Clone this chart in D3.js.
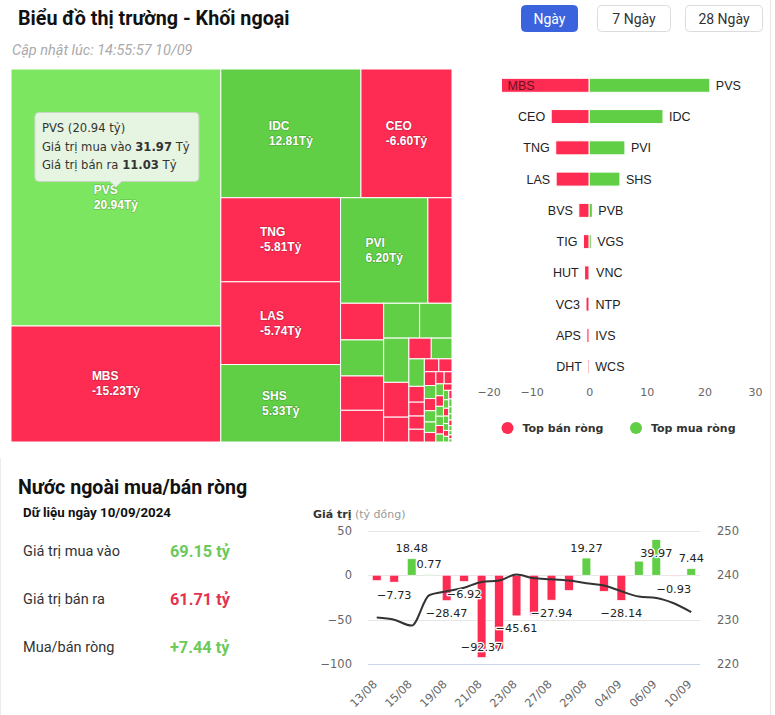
<!DOCTYPE html>
<html><head><meta charset="utf-8">
<script src="https://cdn.jsdelivr.net/npm/d3@7"></script>
<style>
html,body{margin:0;padding:0;background:#fff;}
svg{display:block;}
</style></head><body>
<svg id="c" width="775" height="715"></svg>
<script>
// ---------------- DATA ----------------
// Treemap: traded value (buy+sell, tỷ) sets cell size; side: 1 = net buy, -1 = net sell
const tmTickers = ["PVS","MBS","IDC","CEO","TNG","LAS","SHS","PVI"];
const tmNet = [20.94,-15.23,12.81,-6.60,-5.81,-5.74,5.33,6.20];
const tmTotal = [43.00,19.41,14.39,9.35,8.03,7.90,7.40,7.35,2.03,
  1.26,1.24,1.18,1.09,1.00,0.90,0.89,0.70,0.50,0.37,0.343,0.339,0.195,0.171,0.163,0.157,0.149,
  0.135,0.127,0.120,0.112,0.104,0.096,0.088,0.080,0.076,0.072,0.064,0.060,0.056,0.052,0.048,0.044,
  0.040,0.036,0.033,0.032,0.029,0.025,0.024,0.022,0.020,0.018,0.016,0.014,0.013,0.011,0.010,0.008];
const tmSide = [1,-1,1,-1,-1,-1,1,1,-1,
  -1,1,-1,-1,1,1,1,-1,-1,-1,1,1,-1,-1,-1,-1,-1,
  -1,-1,1,-1,1,1,-1,-1,-1,1,-1,1,1,-1,1,-1,1,1,-1,1,1,-1,1,-1,1,1,1,-1,1,1,-1,1];
const tipTitle = "PVS (20.94 tỷ)";
const tipBuy = "31.97", tipSell = "11.03";

// Top net sell / net buy bars
const sellTickers = ["MBS","CEO","TNG","LAS","BVS","TIG","HUT","VC3","APS","DHT"];
const sellValues = [-15.23,-6.60,-5.81,-5.74,-1.80,-1.00,-0.80,-0.55,-0.40,-0.22];
const buyTickers = ["PVS","IDC","PVI","SHS","PVB","VGS","VNC","NTP","IVS","WCS"];
const buyValues = [20.94,12.81,6.20,5.33,0.55,0.35,0.15,0.05,0.03,0.02];
const barTicks = [-20,-10,0,10,20,30];

// Daily foreign net value + index line
const dates = ["13/08","14/08","15/08","16/08","19/08","20/08","21/08","22/08","23/08","26/08",
  "27/08","28/08","29/08","30/08","04/09","05/09","06/09","09/09","10/09"];
const netValues = [-6.0,-7.73,18.48,0.77,-28.47,-6.92,-92.37,-83.0,-45.61,-45.0,
  -27.94,-17.0,19.27,-18.0,-28.14,15.8,39.97,-0.93,7.44];
const labelShown = [0,1,1,1,1,1,1,0,1,0,1,0,1,0,1,0,1,1,1];
const indexValues = [230.5,230.0,228.7,235.5,236.4,237.2,238.5,238.8,240.15,239.3,
  239.1,238.8,238.2,237.7,236.4,235.2,234.9,233.7,231.7];
const leftTicks = [-100,-50,0,50];
const rightTicks = [220,230,240,250];

const summaryLabels = ["Giá trị mua vào","Giá trị bán ra","Mua/bán ròng"];
const summaryValues = ["69.15 tỷ","61.71 tỷ","+7.44 tỷ"];

// ---------------- STYLE ----------------
const GREEN = "#61cf46", GREEN_HOVER = "#7de660", RED = "#fe2b52";
const UI = "Roboto, 'Noto Sans', sans-serif";
const HC = "'DejaVu Sans', Verdana, sans-serif";
const AR = "'Liberation Sans', Arial, sans-serif";
const svg = d3.select("#c");

// card edges
svg.append("line").attr("x1",770.5).attr("x2",770.5).attr("y1",0).attr("y2",715).attr("stroke","#e6e6e6");
svg.append("line").attr("x1",0.5).attr("x2",0.5).attr("y1",458).attr("y2",715).attr("stroke","#ececec");

// ---------------- HEADER ----------------
svg.append("text").attr("x",18).attr("y",24.5).text("Biểu đồ thị trường - Khối ngoại")
  .attr("font-family",UI).attr("font-weight",700).attr("font-size",19.7).attr("fill","#111");
const btns = [{t:"Ngày",x:521,w:56,on:true},{t:"7 Ngày",x:597,w:73},{t:"28 Ngày",x:685,w:77}];
btns.forEach(b=>{
  svg.append("rect").attr("x",b.x+0.5).attr("y",5.5).attr("width",b.w).attr("height",26).attr("rx",4)
    .attr("fill",b.on?"#3b63de":"#fff").attr("stroke",b.on?"#3b63de":"#dcdcdc");
  svg.append("text").attr("x",b.x+b.w/2+0.5).attr("y",23.5).attr("text-anchor","middle").text(b.t)
    .attr("font-family",UI).attr("font-size",14).attr("fill",b.on?"#fff":"#333");
});
svg.append("text").attr("x",12).attr("y",55).text("Cập nhật lúc: 14:55:57 10/09")
  .attr("font-family",UI).attr("font-style","italic").attr("font-size",14.5).attr("fill","#aaa");

// ---------------- TREEMAP (Highcharts-style alternating squarified) ----------------
function hcTile(parent, x0, y0, x1, y1){
  const kids = parent.children, pW = x1-x0, pH = y1-y0;
  const ar = (w,h)=>Math.max(w/h,h/w);
  const g = {height:pH,width:pW,direction:0,total:0,nW:0,lW:0,nH:0,lH:0,elArr:[],lP:{}};
  const plot = {x:x0,y:y0}; const out = [];
  function add(el){
    const lP = g.lP; lP.total = g.elArr[g.elArr.length-1]; g.total += el;
    if(g.direction===0){
      g.lW = g.nW; lP.lH = lP.total/g.lW; lP.lR = ar(g.lW,lP.lH);
      g.nW = g.total/g.height; lP.nH = lP.total/g.nW; lP.nR = ar(g.nW,lP.nH);
    } else {
      g.lH = g.nH; lP.lW = lP.total/g.lH; lP.lR = ar(lP.lW,g.lH);
      g.nH = g.total/g.width; lP.nW = lP.total/g.nH; lP.nR = ar(lP.nW,g.nH);
    }
    g.elArr.push(el);
  }
  function calc(last){
    let gW = g.lW, gH = g.lH, pTot;
    if(last){gW = g.nW; gH = g.nH;} else {pTot = g.elArr[g.elArr.length-1];}
    const end = g.elArr.length-1;
    g.elArr.forEach((p,i)=>{
      if(last || i<end){
        let w,h;
        if(g.direction===0){w=gW;h=p/w;} else {h=gH;w=p/h;}
        out.push({x:plot.x,y:plot.y,w,h});
        if(g.direction===0) plot.y += h; else plot.x += w;
      }
    });
    g.nW=0; g.lW=0; g.elArr=[]; g.total=0;
    if(g.direction===0) g.width -= gW; else g.height -= gH;
    plot.y = y0 + (pH-g.height); plot.x = x0 + (pW-g.width);
    g.direction = 1-g.direction;
    if(!last) add(pTot);
  }
  kids.forEach((c,i)=>{
    add(pW*pH*(c.value/parent.value));
    if(g.lP.nR > g.lP.lR) calc(false);
    if(i===kids.length-1) calc(true);
  });
  kids.forEach((c,i)=>{const r=out[i]; c.x0=r.x; c.y0=r.y; c.x1=r.x+r.w; c.y1=r.y+r.h;});
}
const tmData = tmTotal.map((v,i)=>({name:tmTickers[i]||"", size:v, side:tmSide[i], net:tmNet[i]}));
const root = d3.hierarchy({children:tmData}).sum(d=>d.size||0).sort((a,b)=>b.value-a.value);
d3.treemap().tile(hcTile).size([441,373])(root);
const tm = svg.append("g").attr("transform","translate(11,69)");
tm.selectAll("rect").data(root.leaves()).join("rect")
  .attr("x",d=>d.x0).attr("y",d=>d.y0).attr("width",d=>Math.max(0,d.x1-d.x0)).attr("height",d=>Math.max(0,d.y1-d.y0))
  .attr("fill",d=>d.data.name==="PVS"?GREEN_HOVER:(d.data.side>0?GREEN:RED))
  .attr("stroke","#fff").attr("stroke-width",1);
root.leaves().filter(d=>d.data.name).forEach(d=>{
  const cx=(d.x0+d.x1)/2, cy=(d.y0+d.y1)/2;
  const grp = tm.append("g");
  const style = t=>t.attr("font-family",AR).attr("font-weight",700).attr("font-size",12).attr("fill","#fff")
     .attr("stroke","rgba(0,0,0,0.18)").attr("stroke-width",1.6).attr("paint-order","stroke").attr("stroke-linejoin","round");
  const t1 = style(grp.append("text").text(d.data.name));
  const t2 = style(grp.append("text").text(d.data.net.toFixed(2)+"Tỷ"));
  const bw = Math.max(t1.node().getComputedTextLength(), t2.node().getComputedTextLength());
  t1.attr("x",cx-bw/2).attr("y",cy-3.5); t2.attr("x",cx-bw/2).attr("y",cy+11.5);
});
// tooltip on PVS
{
  const pvs = root.leaves().find(d=>d.data.name==="PVS");
  const cx = 11+(pvs.x0+pvs.x1)/2, cy = 69+(pvs.y0+pvs.y1)/2;
  const tipY = cy-10.5, bx0 = cx-81, bx1 = cx+83, by1 = tipY-5.5, by0 = by1-69, r=4;
  const p = `M${bx0+r},${by0} H${bx1-r} Q${bx1},${by0} ${bx1},${by0+r} V${by1-r} Q${bx1},${by1} ${bx1-r},${by1}
    H${cx+6} L${cx},${tipY} L${cx-6},${by1} H${bx0+r} Q${bx0},${by1} ${bx0},${by1-r} V${by0+r} Q${bx0},${by0} ${bx0+r},${by0} Z`;
  svg.append("path").attr("d",p).attr("fill","rgba(247,247,247,0.86)").attr("stroke","#c9d6c4").attr("stroke-width",1);
  const tt = svg.append("text").attr("font-family",HC).attr("font-size",11.6).attr("fill","#333");
  tt.append("tspan").attr("x",bx0+7).attr("y",by0+20).text(tipTitle);
  const l2 = tt.append("tspan").attr("x",bx0+7).attr("y",by0+38.5);
  l2.append("tspan").text("Giá trị mua vào "); l2.append("tspan").attr("font-weight",700).text(tipBuy); l2.append("tspan").text(" Tỷ");
  const l3 = tt.append("tspan").attr("x",bx0+7).attr("y",by0+57);
  l3.append("tspan").text("Giá trị bán ra "); l3.append("tspan").attr("font-weight",700).text(tipSell); l3.append("tspan").text(" Tỷ");
}

// ---------------- TOP BUY / SELL BAR CHART ----------------
const bx = d3.scaleLinear().domain([-20,30]).range([474,762]);
const by = d3.scalePoint().domain(d3.range(10)).range([85.3,366.7]);
const bh = 14;
const bg = svg.append("g");
bg.selectAll(".s").data(sellValues).join("rect").attr("class","s")
  .attr("x",d=>bx(d)).attr("y",(d,i)=>by(i)-bh/2).attr("width",d=>bx(0)-bx(d)).attr("height",bh)
  .attr("fill",RED).attr("stroke","#fff").attr("stroke-width",1);
bg.selectAll(".b").data(buyValues).join("rect").attr("class","b")
  .attr("x",bx(0)).attr("y",(d,i)=>by(i)-bh/2).attr("width",d=>bx(d)-bx(0)).attr("height",bh)
  .attr("fill",GREEN).attr("stroke","#fff").attr("stroke-width",1);
sellTickers.forEach((t,i)=>{
  const xs = bx(sellValues[i]);
  const inside = xs-6-25 < 474;
  bg.append("text").attr("x",inside?xs+6:xs-6).attr("y",by(i)+4.5).attr("text-anchor",inside?"start":"end")
    .text(t).attr("font-family",AR).attr("font-size",12.5).attr("fill",inside?"#6a1020":"#222");
});
buyTickers.forEach((t,i)=>{
  bg.append("text").attr("x",bx(buyValues[i])+6).attr("y",by(i)+4.5).text(t)
    .attr("font-family",AR).attr("font-size",12.5).attr("fill","#222");
});
const bAxis = svg.append("g").attr("transform","translate(0,388)")
  .call(d3.axisBottom(bx).tickValues(barTicks).tickSize(0).tickPadding(0));
bAxis.select(".domain").remove();
bAxis.selectAll("text").attr("font-family",HC).attr("font-size",11).attr("fill","#666").attr("dy","0.71em")
  .attr("text-anchor",(d,i)=>i===0?"start":(i===barTicks.length-1?"end":"middle"))
  .attr("x",(d,i)=>i===0?3:0);
// legend
[{c:RED,t:"Top bán ròng",x:507.5},{c:GREEN,t:"Top mua ròng",x:636}].forEach(l=>{
  svg.append("circle").attr("cx",l.x).attr("cy",428).attr("r",6).attr("fill",l.c);
  svg.append("text").attr("x",l.x+15).attr("y",432).text(l.t).attr("font-family",HC).attr("font-weight",700)
    .attr("font-size",11).attr("fill","#333");
});

// ---------------- BOTTOM LEFT SUMMARY ----------------
svg.append("text").attr("x",18).attr("y",493.5).text("Nước ngoài mua/bán ròng")
  .attr("font-family",UI).attr("font-weight",700).attr("font-size",19.6).attr("fill","#111");
svg.append("text").attr("x",23).attr("y",516.5).text("Dữ liệu ngày 10/09/2024")
  .attr("font-family",UI).attr("font-weight",700).attr("font-size",13.3).attr("fill","#111");
summaryLabels.forEach((s,i)=>{
  const y = 556 + i*48;
  svg.append("text").attr("x",23).attr("y",y).text(s).attr("font-family",UI).attr("font-size",14.5).attr("fill","#333");
  svg.append("text").attr("x",170).attr("y",y+0.5).text(summaryValues[i]).attr("font-family",UI).attr("font-weight",700)
    .attr("font-size",16.3).attr("fill",i===1?"#e3334f":"#6cc95a");
});

// ---------------- BOTTOM RIGHT COMBO CHART ----------------
const cx = d3.scaleBand().domain(dates).range([368,700]).paddingInner(0.5).paddingOuter(0.25);
const yL = d3.scaleLinear().domain([-100,50]).range([664.3,530.7]);
const yR = d3.scaleLinear().domain([220,250]).range([664.3,530.7]);
const cg = svg.append("g");
const ct = svg.append("text").attr("x",313).attr("y",518).attr("font-family",HC).attr("font-size",11);
ct.append("tspan").attr("font-weight",700).attr("fill","#333").text("Giá trị");
ct.append("tspan").attr("fill","#999").text(" (tỷ đồng)");
cg.selectAll(".grid").data(leftTicks).join("line").attr("class","grid")
  .attr("x1",368).attr("x2",700).attr("y1",d=>Math.round(yL(d))+0.5).attr("y2",d=>Math.round(yL(d))+0.5)
  .attr("stroke",(d,i)=>i===0?"#ccd6eb":"#e6e6e6");
const axL = cg.append("g").attr("transform","translate(352,0)").call(d3.axisLeft(yL).tickValues(leftTicks).tickSize(0).tickPadding(0));
axL.select(".domain").remove();
axL.selectAll("text").attr("font-family",HC).attr("font-size",11.5).attr("fill","#666");
const axR = cg.append("g").attr("transform","translate(717,0)").call(d3.axisRight(yR).tickValues(rightTicks).tickSize(0).tickPadding(0));
axR.select(".domain").remove();
axR.selectAll("text").attr("font-family",HC).attr("font-size",11.5).attr("fill","#666");
cg.selectAll(".bar").data(netValues).join("rect").attr("class","bar")
  .attr("x",(d,i)=>cx(dates[i])).attr("width",cx.bandwidth())
  .attr("y",d=>yL(Math.max(0,d))).attr("height",d=>Math.abs(yL(d)-yL(0)))
  .attr("fill",d=>d>=0?GREEN:RED).attr("stroke","#fff").attr("stroke-width",0.6);
const line = d3.line().x((d,i)=>cx(dates[i])+cx.bandwidth()/2).y(d=>yR(d)).curve(d3.curveMonotoneX);
cg.append("path").attr("d",line(indexValues)).attr("fill","none").attr("stroke","#333").attr("stroke-width",2);
netValues.forEach((v,i)=>{
  if(!labelShown[i]) return;
  const xc = cx(dates[i])+cx.bandwidth()/2;
  let yc;
  if(v>=0){ yc = yL(v)-10.5; if(yc-7<530.7) yc = yL(v)+13.5; }
  else { yc = yL(v)+12.5; if(yc+7>664.3) yc = yL(v)-11; }
  cg.append("text").attr("x",xc).attr("y",yc+4).attr("text-anchor","middle").text(d3.format(".2f")(v))
    .attr("font-family",HC).attr("font-size",11.3).attr("fill","#222")
    .attr("stroke","#fff").attr("stroke-width",2.5).attr("stroke-linejoin","round").attr("paint-order","stroke");
});
dates.forEach((d,i)=>{
  if(i%2) return;
  const xc = cx(d)+cx.bandwidth()/2;
  cg.append("text").attr("transform",`translate(${xc+1},${685}) rotate(-45)`).attr("text-anchor","end").text(d)
    .attr("font-family",HC).attr("font-size",11.3).attr("fill","#666");
});
</script>
</body></html>
